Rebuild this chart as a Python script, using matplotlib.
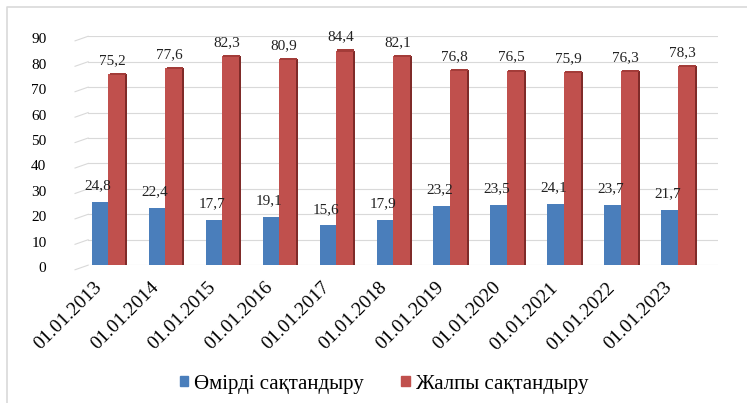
import numpy as np
import matplotlib.pyplot as plt
import matplotlib.transforms as mtransforms

plt.rcParams['font.family'] = ['Liberation Serif', 'DejaVu Serif']

daty = ['01.01.2013', '01.01.2014', '01.01.2015', '01.01.2016', '01.01.2017', '01.01.2018',
        '01.01.2019', '01.01.2020', '01.01.2021', '01.01.2022', '01.01.2023']
omir = [24.8, 22.4, 17.7, 19.1, 15.6, 17.9, 23.2, 23.5, 24.1, 23.7, 21.7]
zhalpy = [75.2, 77.6, 82.3, 80.9, 84.4, 82.1, 76.8, 76.5, 75.9, 76.3, 78.3]
seriya = ['Өмірді сақтандыру', 'Жалпы сақтандыру']

kok = '#4a7ebb'
qyzyl = '#c0504d'

fig = plt.figure(figsize=(7.47, 4.03), dpi=100)
ax = fig.add_axes([0.118, 0.342, 0.843, 0.568])

x = np.arange(len(daty))
w = 0.29

# торлар (3D-ге ұқсас қиғаш басы бар)
for v in range(0, 91, 10):
    ax.axhline(v, color='#d9d9d9', lw=0.8, zorder=0)
    ax.plot([-0.58, -0.35], [v - 1.8, v], color='#d9d9d9', lw=0.8, zorder=0, clip_on=False)

ax.bar(x - w / 2, omir, w, color=kok, zorder=2)
ax.bar(x + w / 2, zhalpy, w, color=qyzyl, zorder=2)
# бүйір жақтары
ax.bar(x + w + 0.025, zhalpy, 0.05, bottom=0, color='#7f2b29', zorder=2)
ax.bar(x + w / 2 + 0.025, np.array(zhalpy) * 0 + 0.8, w, bottom=np.array(zhalpy) - 0.4,
       color='#a33c39', zorder=3)

for i in range(len(daty)):
    ax.annotate(f'{omir[i]:.1f}'.replace('.', ','), (x[i] - w / 2 - 0.03, omir[i]),
                xytext=(0, 7), textcoords='offset points', ha='center', va='bottom',
                fontsize=11, color='#222222', zorder=4)
    ax.annotate(f'{zhalpy[i]:.1f}'.replace('.', ','), (x[i] + 0.08, zhalpy[i]),
                xytext=(0, 5), textcoords='offset points', ha='center', va='bottom',
                fontsize=11, color='#222222', zorder=4)

ax.set_xlim(-0.35, 10.7)
ax.set_ylim(0, 90)
ax.set_yticks(range(0, 91, 10))
ax.tick_params(axis='y', length=0, labelsize=11, pad=30)
for lbl in ax.get_yticklabels():
    lbl.set_transform(lbl.get_transform() + mtransforms.ScaledTranslation(0, -0.02, fig.dpi_scale_trans))
ax.set_xticks(x)
ax.set_xticklabels(daty, rotation=45, ha='right', rotation_mode='anchor', fontsize=14)
ax.tick_params(axis='x', length=0, pad=10)
offset = mtransforms.ScaledTranslation(-0.15, 0, fig.dpi_scale_trans)
for lbl in ax.get_xticklabels():
    lbl.set_transform(lbl.get_transform() + offset)
for s in ax.spines.values():
    s.set_visible(False)

h1 = plt.Rectangle((0, 0), 1, 1, color=kok)
h2 = plt.Rectangle((0, 0), 1, 1, color=qyzyl)
leg = fig.legend([h1, h2], seriya, loc='center', bbox_to_anchor=(384 / 747, 1 - 384 / 403),
                 ncol=2, frameon=False, fontsize=15, handlelength=0.4, handleheight=0.4,
                 handletextpad=0.3, columnspacing=1.8)
for t in leg.get_texts():
    t.set_fontfamily('Liberation Serif')

# сыртқы жиек (жоғарғы және сол жақ)
fig.add_artist(plt.Line2D([0.009, 0.009, 1.0], [0.0, 0.983, 0.983], transform=fig.transFigure,
                          color='#d9d9d9', lw=1.2))

fig.savefig('out.png', dpi=100)
